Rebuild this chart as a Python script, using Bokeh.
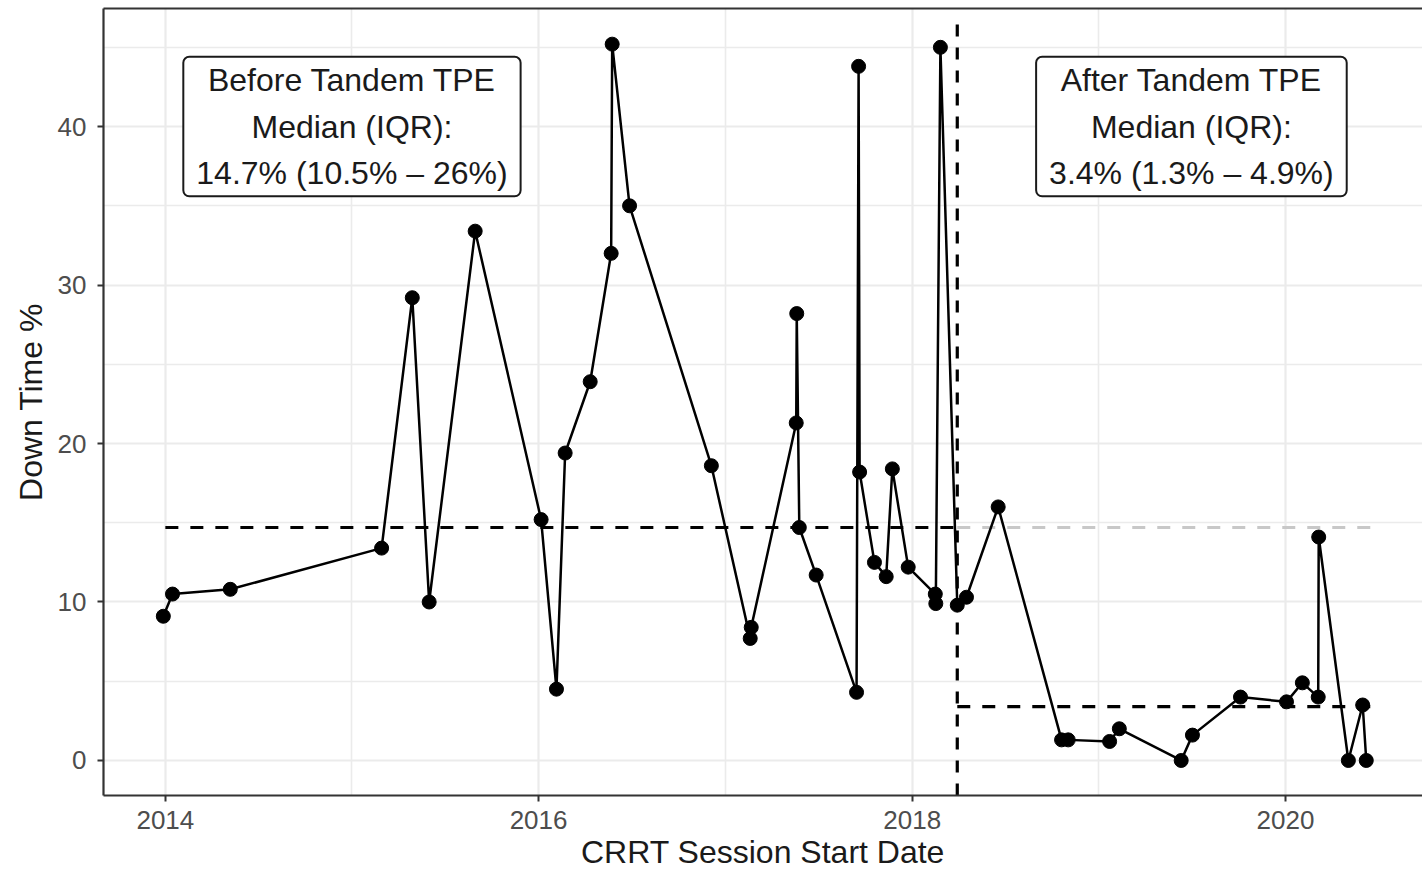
import pandas as pd
from bokeh.plotting import figure
from bokeh.models import (ColumnDataSource, FixedTicker, DatetimeTickFormatter, Range1d,
                          Label, LinearAxis)
from bokeh.embed import file_html
from bokeh.resources import INLINE

# ---- data ----
session_dates = [
    "2013-12-28", "2014-01-15", "2014-05-08", "2015-02-28", "2015-04-29", "2015-06-01",
    "2015-08-30", "2016-01-06", "2016-02-05", "2016-02-22", "2016-04-11", "2016-05-22",
    "2016-05-24", "2016-06-27", "2016-12-04", "2017-02-18", "2017-02-20", "2017-05-19",
    "2017-05-20", "2017-05-25", "2017-06-27", "2017-09-14", "2017-09-18", "2017-09-20",
    "2017-10-19", "2017-11-11", "2017-11-23", "2017-12-24", "2018-02-15", "2018-02-16",
    "2018-02-25", "2018-03-30", "2018-04-17", "2018-06-18", "2018-10-20", "2018-11-02",
    "2019-01-22", "2019-02-10", "2019-06-11", "2019-07-03", "2019-10-05", "2020-01-03",
    "2020-02-03", "2020-03-05", "2020-03-06", "2020-05-03", "2020-05-31", "2020-06-07",
]
down_time = [
    9.1, 10.5, 10.8, 13.4, 29.2, 10.0,
    33.4, 15.2, 4.5, 19.4, 23.9, 32.0,
    45.2, 35.0, 18.6, 7.7, 8.4, 21.3,
    28.2, 14.7, 11.7, 4.3, 43.8, 18.2,
    12.5, 11.6, 18.4, 12.2, 10.5, 9.9,
    45.0, 9.8, 10.3, 16.0, 1.3, 1.3,
    1.2, 2.0, 0.0, 1.6, 4.0, 3.7,
    4.9, 4.0, 14.1, 0.0, 3.5, 0.0,
]
tandem_start = "2018-03-30"
series_start = "2014-01-01"
series_end = "2020-06-25"
median_before = 14.7
median_after = 3.4
label_before = "Before Tandem TPE\nMedian (IQR):\n14.7% (10.5% \u2013 26%)"
label_after = "After Tandem TPE\nMedian (IQR):\n3.4% (1.3% \u2013 4.9%)"
label_before_pos = ("2015-01-01", 40.0)
label_after_pos = ("2019-07-01", 40.0)
x_title = "CRRT Session Start Date"
y_title = "Down Time %"
x_tick_years = ["2014-01-01", "2016-01-01", "2018-01-01", "2020-01-01"]
x_minor_years = ["2015-01-01", "2017-01-01", "2019-01-01"]
y_ticks = [0, 10, 20, 30, 40]
y_minor = [5, 15, 25, 35, 45]

def ms(d):
    return pd.Timestamp(d).value / 1e6

src = ColumnDataSource(dict(date=pd.to_datetime(session_dates), pct=down_time))

FONT = "Liberation Sans"
Y0, Y1 = -2.21, 47.45

p = figure(width=1422, height=872, x_axis_type="datetime", output_backend="svg",
           toolbar_location=None,
           x_range=Range1d(ms("2013-09-02"), ms("2020-09-25")),
           y_range=Range1d(Y0, Y1),
           min_border_left=103, min_border_right=0, min_border_top=8, min_border_bottom=77)
p.background_fill_color = "white"
p.border_fill_color = "white"
p.outline_line_color = None

# grids
p.xgrid.ticker = FixedTicker(ticks=[ms(d) for d in x_tick_years], minor_ticks=[ms(d) for d in x_minor_years])
p.ygrid.ticker = FixedTicker(ticks=y_ticks, minor_ticks=y_minor)
for g in (p.xgrid, p.ygrid):
    g.grid_line_color = "#EBEBEB"
    g.grid_line_width = 2.2
    g.minor_grid_line_color = "#EBEBEB"
    g.minor_grid_line_width = 1.6

# axes
xa = p.xaxis[0]
xa.ticker = FixedTicker(ticks=[ms(d) for d in x_tick_years])
xa.formatter = DatetimeTickFormatter(years="%Y", months="%Y", days="%Y", hours="%Y")
ya = p.yaxis[0]
ya.ticker = FixedTicker(ticks=y_ticks)
for ax in (xa, ya):
    ax.axis_line_color = "#333333"
    ax.axis_line_width = 2.2
    ax.major_tick_line_color = "#333333"
    ax.major_tick_line_width = 2
    ax.major_tick_in = 0
    ax.major_tick_out = 6
    ax.minor_tick_line_color = None
    ax.major_label_text_font = FONT
    ax.major_label_text_font_size = "26px"
    ax.major_label_text_color = "#4D4D4D"
    ax.axis_label_text_font = FONT
    ax.axis_label_text_font_size = "32px"
    ax.axis_label_text_font_style = "normal"
    ax.axis_label_text_color = "#1A1A1A"
xa.axis_label = x_title
ya.axis_label = y_title
xa.major_label_standoff = 9
xa.axis_label_standoff = 2
ya.major_label_standoff = 11
ya.axis_label_standoff = 6

top = LinearAxis(ticker=FixedTicker(ticks=[]), axis_line_color="#333333", axis_line_width=2.2,
                 major_tick_out=0, major_tick_in=0, major_label_standoff=0,
                 minor_tick_line_color=None, major_tick_line_color=None)
p.add_layout(top, "above")

# median lines
p.line(x=pd.to_datetime([tandem_start, series_end]), y=[median_before, median_before],
       line_color="#C8C8C8", line_width=3.2, line_dash="13 12")
p.line(x=pd.to_datetime([series_start, tandem_start]), y=[median_before, median_before],
       line_color="black", line_width=3.2, line_dash="13 12")
p.line(x=pd.to_datetime([tandem_start, series_end]), y=[median_after, median_after],
       line_color="black", line_width=3.2, line_dash="13 12")
p.line(x=pd.to_datetime([tandem_start, tandem_start]), y=[Y0, 46.5],
       line_color="black", line_width=3.2, line_dash="12 11")

# series
p.line("date", "pct", source=src, line_color="black", line_width=2.5)
p.scatter("date", "pct", source=src, size=14, fill_color="black", line_color="black")

for txt, (d, yv) in ((label_before, label_before_pos), (label_after, label_after_pos)):
    p.add_layout(Label(x=ms(d), y=yv, text=txt, text_align="center", text_baseline="middle",
                       text_font=FONT, text_font_size="32px", text_color="#1A1A1A",
                       text_line_height=1.3,
                       background_fill_color="white", border_line_color="#1A1A1A",
                       border_line_width=2, border_radius=6,
                       padding=dict(left=13, right=13, top=5, bottom=5)))

open("out.html", "w").write(file_html(p, INLINE))
